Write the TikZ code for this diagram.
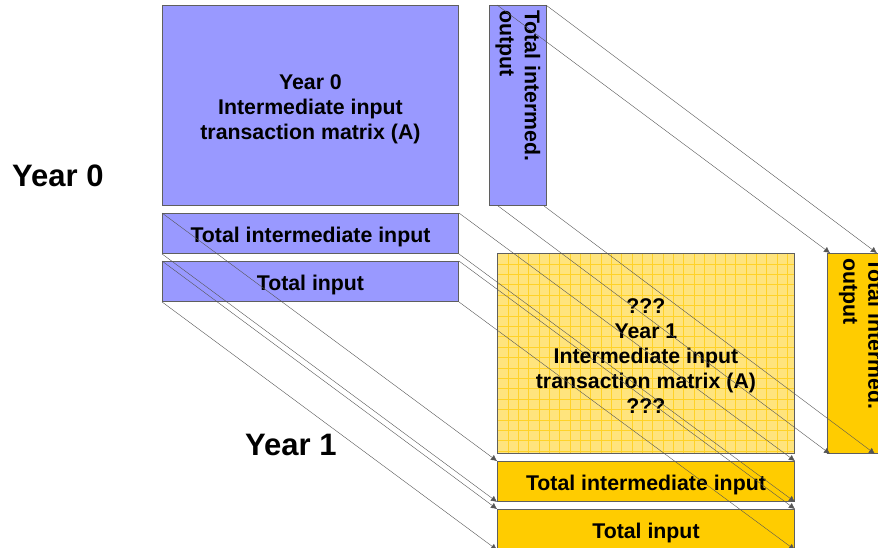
\documentclass[tikz,border=0pt]{standalone}
\usepackage{fontspec}
\setmainfont{Liberation Sans}
\usetikzlibrary{arrows.meta}
\definecolor{boxblue}{RGB}{153,153,255}
\definecolor{boxyellow}{RGB}{255,204,0}
\definecolor{lightyellow}{RGB}{255,228,125}
\definecolor{gridyellow}{RGB}{255,210,40}
\definecolor{edgegray}{RGB}{95,95,95}
\definecolor{linkgray}{RGB}{85,85,85}
\newcommand{\firstline}[2][22.5pt]{\raisebox{0pt}[#1]{#2}}
\begin{document}
\begin{tikzpicture}[x=1pt,y=-1pt,
  box/.style={draw=edgegray, line width=0.9pt, anchor=north west, inner sep=0pt,
    font=\fontsize{21.3}{25}\selectfont\bfseries, align=center},
  bluebox/.style={box, fill=boxblue},
  yellowbox/.style={box, fill=boxyellow},
  gridbox/.style={box, fill=lightyellow,
    path picture={
      \foreach \i in {1,...,29}
        \draw[gridyellow, line width=0.6pt]
          ([xshift=\i*10.35pt]path picture bounding box.north west) --
          ([xshift=\i*10.35pt]path picture bounding box.south west);
      \foreach \j in {1,...,19}
        \draw[gridyellow, line width=0.6pt]
          ([yshift=-\j*10.4pt]path picture bounding box.north west) --
          ([yshift=-\j*10.4pt]path picture bounding box.north east);
    }},
  vtext/.style={rotate=-90, anchor=west, align=left, inner sep=0pt,
    font=\fontsize{21.3}{25}\selectfont\bfseries},
  yearlabel/.style={anchor=base west, inner sep=0pt, font=\fontsize{31}{36}\selectfont\bfseries},
  link/.style={draw=linkgray, line width=0.4pt, -{Latex[length=6pt,width=6pt]}}
]
\useasboundingbox (0,0) rectangle (878,548);

% Year 0 (blue)
\node[bluebox, minimum width=296pt, minimum height=200pt] (A0) at (162,5)
  {\firstline[23.5pt]{Year 0}\\Intermediate input\\transaction matrix (A)};
\node[bluebox, minimum width=57pt, minimum height=200pt] (O0) at (489,5) {};
\node[vtext] (O0t) at ([yshift=-5pt]O0.north) {Total intermed.\\output};
\node[bluebox, minimum width=296pt, minimum height=40pt] (II0) at (162,213) {\firstline{Total intermediate input}};
\node[bluebox, minimum width=296pt, minimum height=40pt] (TI0) at (162,261) {\firstline{Total input}};

% Year 1 (yellow)
\node[gridbox, minimum width=297pt, minimum height=200pt] (A1) at (497,253)
  {\firstline[20.5pt]{???}\\Year 1\\Intermediate input\\transaction matrix (A)\\???};
\node[yellowbox, minimum width=68pt, minimum height=200pt] (O1) at (827,253) {};
\node[vtext] (O1t) at ([yshift=-5pt]O1.north) {Total intermed.\\output};
\node[yellowbox, minimum width=297pt, minimum height=40pt] (II1) at (497,461) {\firstline{Total intermediate input}};
\node[yellowbox, minimum width=297pt, minimum height=40pt] (TI1) at (497,509) {\firstline{Total input}};

% labels
\node[yearlabel] (Y0) at (12,187) {Year 0};
\node[yearlabel] (Y1) at (245,455) {Year 1};

% links
\draw[link] (II0.north west) -- (II1.north west);
\draw[link] (II0.north east) -- (II1.north east);
\draw[link] (II0.south west) -- (II1.south west);
\draw[link] (II0.south east) -- (II1.south east);
\draw[link] (TI0.north west) -- (TI1.north west);
\draw[link] (TI0.north east) -- (TI1.north east);
\draw[link] (TI0.south west) -- (TI1.south west);
\draw[link] (TI0.south east) -- (TI1.south east);
\draw[link] ([xshift=8pt]O0.north west) -- ([xshift=3pt]O1.north west);
\draw[link] ([xshift=-1pt]O0.north east) -- ([xshift=-19pt]O1.north east);
\draw[link] ([xshift=9pt]O0.south west) -- ([xshift=3pt]O1.south west);
\draw[link] ([xshift=-3pt]O0.south east) -- ([xshift=-21pt]O1.south east);
\end{tikzpicture}
\end{document}
